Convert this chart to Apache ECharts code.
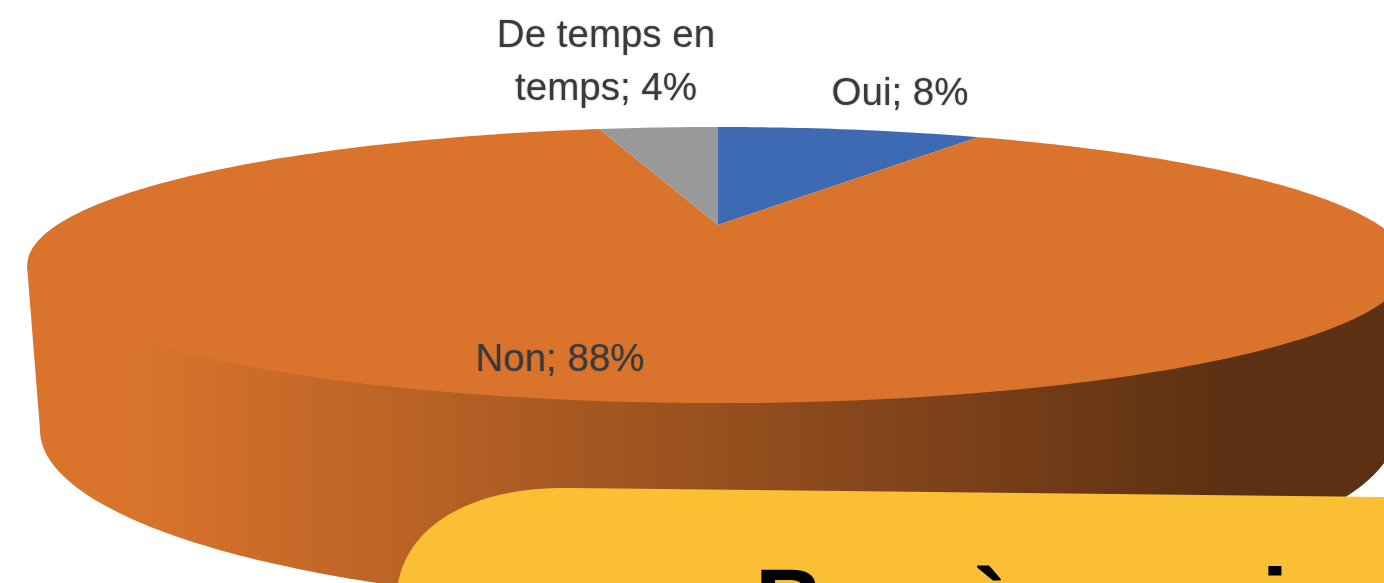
<!DOCTYPE html>
<html>
<head>
<meta charset="utf-8">
<style>
  html, body { margin: 0; padding: 0; background: #fff; }
  #chart { width: 1384px; height: 583px; overflow: hidden; }
</style>
<script src="https://cdn.jsdelivr.net/npm/echarts@6/dist/echarts.min.js"></script>
</head>
<body>
<div id="chart"></div>
<script>
// valeurs (angles des parts, libellés arrondis)
const categories = ['Oui', 'Non', 'De temps en\ntemps'];
const shares = [8.2, 88.1, 3.7];
const noteTitle = 'Bon à savoir';

const sliceColors = ['#3e6ab3', '#da742c', '#999999'];
// centre de chaque libellé, en pixels
const labelCenters = [[900, 94], [560, 360], [606, 63]];

// camembert 3D : le disque du haut est vu en perspective
const disc = { cx: 718, apexY: 225, r: 661, a: -61.2, c: 0.29 };
const topEdge = { cx: 718, cy: 265, rx: 691, ry: 138 };
const bottomEdge = { cx: 718, cy: 430, rx: 678, ry: 177 };

const total = shares.reduce((s, v) => s + v, 0);

function project(frac) {
    const t = frac * Math.PI * 2;
    const u = Math.sin(t), v = Math.cos(t);
    const w = disc.c * v + 1;
    return [disc.cx + disc.r * u / w, (disc.a * v + disc.apexY) / w];
}

// demi-ellipse avant, de gauche à droite
function frontArc(e) {
    const pts = [];
    for (let i = 0; i <= 180; i++) {
        const t = Math.PI - i * Math.PI / 180;
        pts.push([e.cx + e.rx * Math.cos(t), e.cy + e.ry * Math.sin(t)]);
    }
    return pts;
}

// encadré jaune, coin arrondi en haut à gauche
function notePoints() {
    const p0 = [398, 583], p1 = [410, 520], p2 = [480, 486], p3 = [572, 488];
    const pts = [];
    for (let k = 0; k <= 40; k++) {
        const t = k / 40, m = 1 - t;
        pts.push([0, 1].map(d =>
            m * m * m * p0[d] + 3 * m * m * t * p1[d] + 3 * m * t * t * p2[d] + t * t * t * p3[d]));
    }
    pts.push([1384, 497], [1384, 583]);
    return pts;
}

function renderSlice(params, api) {
    const i = params.dataIndex;
    const before = shares.slice(0, i).reduce((s, v) => s + v, 0);
    const start = before / total;
    const end = (before + api.value(0)) / total;
    const children = [];

    // le flanc visible n'existe que pour la part qui passe devant
    if (start < 0.5 && end > 0.5) {
        const sidePts = frontArc(bottomEdge);
        // on remonte sous le disque pour éviter un liseré clair
        sidePts.push([topEdge.cx + topEdge.rx, topEdge.cy], [topEdge.cx - topEdge.rx, topEdge.cy]);
        children.push({
            type: 'polygon',
            shape: { points: sidePts },
            style: {
                fill: {
                    type: 'linear', x: 125, y: 0, x2: 1230, y2: 0, global: true,
                    colorStops: [
                        { offset: 0, color: '#da742c' },
                        { offset: 1, color: '#5c3013' }
                    ]
                }
            }
        });
    }

    const pts = [[disc.cx, disc.apexY]];
    const steps = Math.max(2, Math.round((end - start) * 360));
    for (let k = 0; k <= steps; k++) {
        pts.push(project(start + (end - start) * k / steps));
    }
    children.push({
        type: 'polygon',
        shape: { points: pts },
        style: { fill: sliceColors[i] }
    });

    children.push({
        type: 'text',
        z2: 10,
        style: {
            text: categories[i] + '; ' + Math.round(api.value(0)) + '%',
            x: labelCenters[i][0],
            y: labelCenters[i][1],
            align: 'center',
            verticalAlign: 'middle',
            lineHeight: 53,
            fontFamily: 'Liberation Sans',
            fontSize: 38.5,
            fill: '#3a3a3a',
            textShadowColor: 'rgba(60,60,60,0.45)',
            textShadowBlur: 2
        }
    });
    return { type: 'group', children: children };
}

const chart = echarts.init(document.getElementById('chart'));
chart.setOption({
    animation: false,
    backgroundColor: '#ffffff',
    series: [{
        type: 'custom',
        coordinateSystem: 'none',
        renderItem: renderSlice,
        data: shares.map(v => [v]),
        silent: true
    }],
    graphic: [{
        type: 'polygon',
        z: 100,
        shape: { points: notePoints() },
        style: { fill: '#fabf33' }
    }, {
        type: 'text',
        z: 101,
        x: 755,
        y: 656,
        style: {
            text: noteTitle,
            verticalAlign: 'bottom',
            fontFamily: 'Liberation Sans',
            fontWeight: 'bold',
            fontSize: 95,
            fill: '#000000'
        }
    }]
});
</script>
</body>
</html>
